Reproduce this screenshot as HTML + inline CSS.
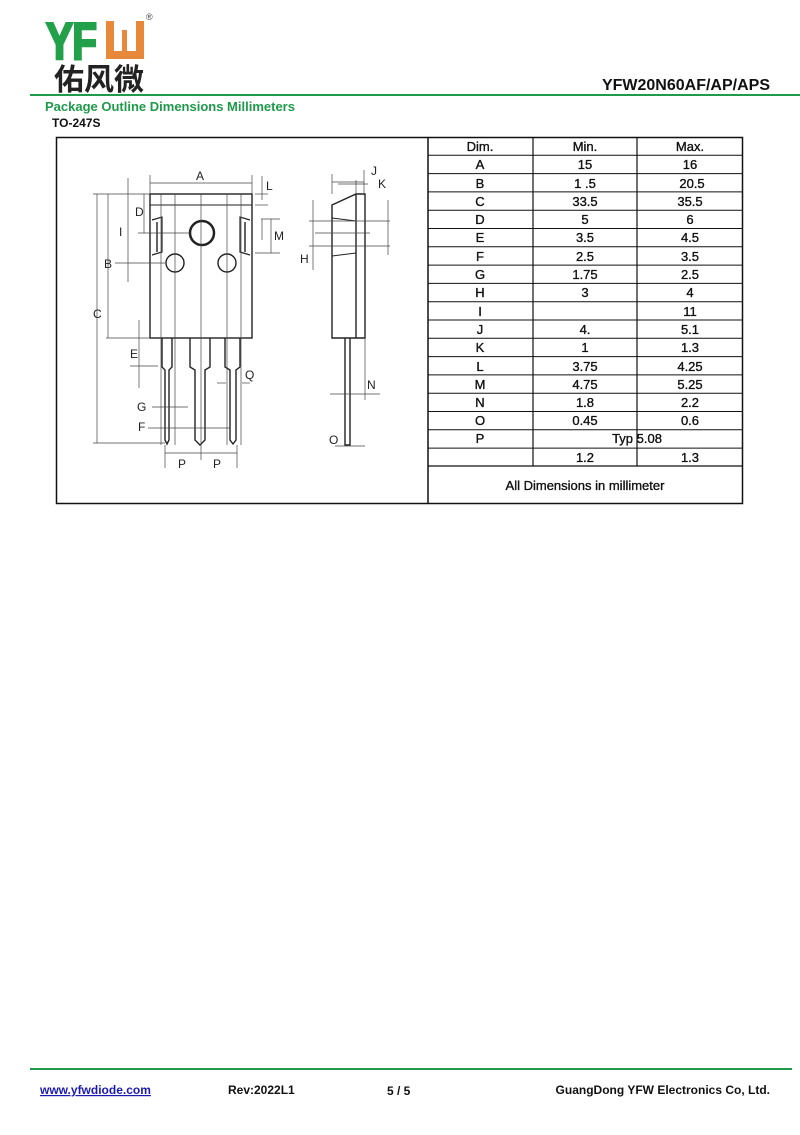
<!DOCTYPE html>
<html><head><meta charset="utf-8"><style>
body{margin:0;background:#fff;width:800px;height:1130px;overflow:hidden;font-family:"Liberation Sans",Arial,sans-serif}
</style></head><body>
<svg width="800" height="1130" xmlns="http://www.w3.org/2000/svg" font-family="Liberation Sans, Arial, sans-serif">
<!-- logo -->
<text transform="translate(46,59) scale(0.78,1)" font-size="52" font-weight="bold" fill="#22a04a" stroke="#22a04a" stroke-width="2.5" letter-spacing="-1">YF</text>
<path d="M106 21 h8 v30 h8 v-21 h5 v21 h9 v-30 h8 v38 h-38z" fill="#e8883a"/>
<text x="146" y="20" font-size="9" fill="#444">®</text>
<text x="54" y="90" font-size="30" font-weight="bold" font-family="Noto Sans CJK SC, sans-serif" fill="#222">佑风微</text>
<text x="770" y="90" font-size="16" font-weight="bold" text-anchor="end" fill="#111">YFW20N60AF/AP/APS</text>
<rect x="30" y="94" width="770" height="2" fill="#1f9a4a"/>
<text x="45" y="111" font-size="13" font-weight="bold" fill="#1f9a4a">Package Outline Dimensions Millimeters</text>
<text x="52" y="127" font-size="12" font-weight="bold" fill="#111">TO-247S</text>
<!-- frame -->
<rect x="56.5" y="137.5" width="686" height="366" fill="none" stroke="#111" stroke-width="1.5"/>
<line x1="428" y1="137" x2="428" y2="504" stroke="#111" stroke-width="1.5"/>
<g stroke="#111" stroke-width="1.2">
<line x1="533" y1="137" x2="533" y2="466"/><line x1="637" y1="137" x2="637" y2="466"/>
<line x1="428" y1="466" x2="742" y2="466"/>
</g>
<g stroke="#111" stroke-width="1">
<line x1="428" y1="155.3" x2="742" y2="155.3"/><line x1="428" y1="173.6" x2="742" y2="173.6"/>
<line x1="428" y1="191.9" x2="742" y2="191.9"/><line x1="428" y1="210.2" x2="742" y2="210.2"/>
<line x1="428" y1="228.5" x2="742" y2="228.5"/><line x1="428" y1="246.8" x2="742" y2="246.8"/>
<line x1="428" y1="265.1" x2="742" y2="265.1"/><line x1="428" y1="283.4" x2="742" y2="283.4"/>
<line x1="428" y1="301.7" x2="742" y2="301.7"/><line x1="428" y1="320" x2="742" y2="320"/>
<line x1="428" y1="338.3" x2="742" y2="338.3"/><line x1="428" y1="356.6" x2="742" y2="356.6"/>
<line x1="428" y1="374.9" x2="742" y2="374.9"/><line x1="428" y1="393.2" x2="742" y2="393.2"/>
<line x1="428" y1="411.5" x2="742" y2="411.5"/><line x1="428" y1="429.8" x2="742" y2="429.8"/>
<line x1="428" y1="448.1" x2="742" y2="448.1"/>
</g>
<g font-size="13" text-anchor="middle" fill="#111" stroke="#111" stroke-width="0.35">
<text x="480" y="151">Dim.</text><text x="585" y="151">Min.</text><text x="690" y="151">Max.</text>
<text x="480" y="169">A</text><text x="585" y="169">15</text><text x="690" y="169">16</text>
<text x="480" y="188">B</text><text x="585" y="188">1   .5</text><text x="692" y="188">20.5</text>
<text x="480" y="206">C</text><text x="585" y="206">33.5</text><text x="690" y="206">35.5</text>
<text x="480" y="224">D</text><text x="585" y="224">5</text><text x="690" y="224">6</text>
<text x="480" y="242">E</text><text x="585" y="242">3.5</text><text x="690" y="242">4.5</text>
<text x="480" y="261">F</text><text x="585" y="261">2.5</text><text x="690" y="261">3.5</text>
<text x="480" y="279">G</text><text x="585" y="279">1.75</text><text x="690" y="279">2.5</text>
<text x="480" y="297">H</text><text x="585" y="297">3</text><text x="690" y="297">4</text>
<text x="480" y="316">I</text><text x="690" y="316">11</text>
<text x="480" y="334">J</text><text x="585" y="334">4.</text><text x="690" y="334">5.1</text>
<text x="480" y="352">K</text><text x="585" y="352">1</text><text x="690" y="352">1.3</text>
<text x="480" y="371">L</text><text x="585" y="371">3.75</text><text x="690" y="371">4.25</text>
<text x="480" y="389">M</text><text x="585" y="389">4.75</text><text x="690" y="389">5.25</text>
<text x="480" y="407">N</text><text x="585" y="407">1.8</text><text x="690" y="407">2.2</text>
<text x="480" y="425">O</text><text x="585" y="425">0.45</text><text x="690" y="425">0.6</text>
<text x="480" y="443">P</text><text x="637" y="443">Typ 5.08</text>
<text x="585" y="462">1.2</text><text x="690" y="462">1.3</text>
<text x="585" y="490">All Dimensions in millimeter</text>
</g>
<!-- front view -->
<g fill="none" stroke="#222" stroke-width="1.4">
<rect x="150" y="194" width="102" height="144"/>
<line x1="150" y1="205" x2="252" y2="205" stroke-width="1"/>
<circle cx="202" cy="233" r="12" stroke-width="2.5"/>
<circle cx="175" cy="263" r="9"/><circle cx="227" cy="263" r="9"/>
<path d="M152 220 l10 -3 v35 l-10 3" stroke-width="1.2"/><path d="M157 222 v30"/>
<path d="M250 220 l-10 -3 v35 l10 3" stroke-width="1.2"/><path d="M245 222 v30"/>
<path d="M162 338 v29 l3 3 v70 l2 4 l2 -4 v-70 l3 -3 v-29" />
<path d="M190 338 v29 l5 3 v70 l5 5 l5 -5 v-70 l5 -3 v-29"/>
<path d="M225 338 v29 l5 3 v70 l3 4 l3 -4 v-70 l4 -3 v-29"/>
</g>
<g stroke="#444" stroke-width="0.7" fill="none">
<line x1="161" y1="194" x2="161" y2="445"/><line x1="175" y1="194" x2="175" y2="445"/>
<line x1="201" y1="194" x2="201" y2="460"/><line x1="227" y1="194" x2="227" y2="445"/>
<line x1="241" y1="194" x2="241" y2="445"/>
<line x1="150" y1="183" x2="252" y2="183"/><line x1="150" y1="175" x2="150" y2="194"/><line x1="252" y1="175" x2="252" y2="194"/>
<line x1="93" y1="194" x2="150" y2="194"/><line x1="97" y1="194" x2="97" y2="443"/><line x1="93" y1="443" x2="165" y2="443"/>
<line x1="108" y1="194" x2="108" y2="338"/><line x1="106" y1="338" x2="150" y2="338"/>
<line x1="128" y1="178" x2="128" y2="282"/><line x1="115" y1="263" x2="165" y2="263"/><line x1="138" y1="233" x2="190" y2="233"/>
<line x1="144" y1="194" x2="144" y2="233"/>
<line x1="139" y1="320" x2="139" y2="388"/><line x1="130" y1="366" x2="158" y2="366"/>
<line x1="262" y1="176" x2="262" y2="200"/><line x1="255" y1="194" x2="268" y2="194"/><line x1="255" y1="205" x2="268" y2="205"/>
<line x1="261" y1="219" x2="280" y2="219"/><line x1="255" y1="253" x2="280" y2="253"/><line x1="271" y1="219" x2="271" y2="253"/><line x1="262" y1="219" x2="262" y2="240"/>
<line x1="152" y1="407" x2="188" y2="407"/><line x1="148" y1="428" x2="230" y2="428"/>
<line x1="217" y1="383" x2="226" y2="383"/><line x1="242" y1="383" x2="250" y2="383"/>
<line x1="165" y1="453" x2="237" y2="453"/><line x1="165" y1="445" x2="165" y2="468"/><line x1="237" y1="445" x2="237" y2="468"/>
</g>
<g font-size="12" fill="#222">
<text x="196" y="180">A</text><text x="266" y="190">L</text><text x="135" y="216">D</text><text x="119" y="236">I</text>
<text x="274" y="240">M</text><text x="104" y="268">B</text><text x="93" y="318">C</text><text x="130" y="358">E</text>
<text x="245" y="379">Q</text><text x="137" y="411">G</text><text x="138" y="431">F</text><text x="178" y="468">P</text><text x="213" y="468">P</text>
</g>
<!-- side view -->
<g fill="none" stroke="#222" stroke-width="1.4">
<path d="M332 205 L356 194 H365 V338 H332 Z"/>
<line x1="356" y1="194" x2="356" y2="338"/>
<path d="M332 218 l24 3 M332 256 l24 -3" stroke-width="1"/>
<path d="M345 338 v107 h5 v-107"/>
</g>
<g stroke="#444" stroke-width="0.7" fill="none">
<line x1="332" y1="174" x2="332" y2="194"/><line x1="332" y1="182" x2="364" y2="182"/><line x1="364" y1="170" x2="364" y2="194"/>
<line x1="338" y1="184" x2="368" y2="184"/><line x1="356" y1="180" x2="356" y2="194"/>
<line x1="309" y1="221" x2="390" y2="221"/><line x1="309" y1="246" x2="390" y2="246"/><line x1="315" y1="233" x2="370" y2="233"/>
<line x1="313" y1="200" x2="313" y2="270"/><line x1="388" y1="200" x2="388" y2="255"/>
<line x1="365" y1="338" x2="365" y2="400"/><line x1="330" y1="394" x2="380" y2="394"/>
<line x1="335" y1="446" x2="365" y2="446"/>
</g>
<g font-size="12" fill="#222">
<text x="371" y="175">J</text><text x="378" y="188">K</text><text x="300" y="263">H</text><text x="367" y="389">N</text><text x="329" y="444">O</text>
</g>
<!-- footer -->
<rect x="30" y="1068" width="762" height="2" fill="#1f9a4a"/>
<g font-size="12" font-weight="bold" fill="#111">
<text x="40" y="1094" fill="#1a1ab0" text-decoration="underline">www.yfwdiode.com</text>
<text x="228" y="1094">Rev:2022L1</text>
<text x="387" y="1095">5 / 5</text>
<text x="770" y="1094" text-anchor="end">GuangDong YFW Electronics Co, Ltd.</text>
</g>
</svg>
</body></html>
